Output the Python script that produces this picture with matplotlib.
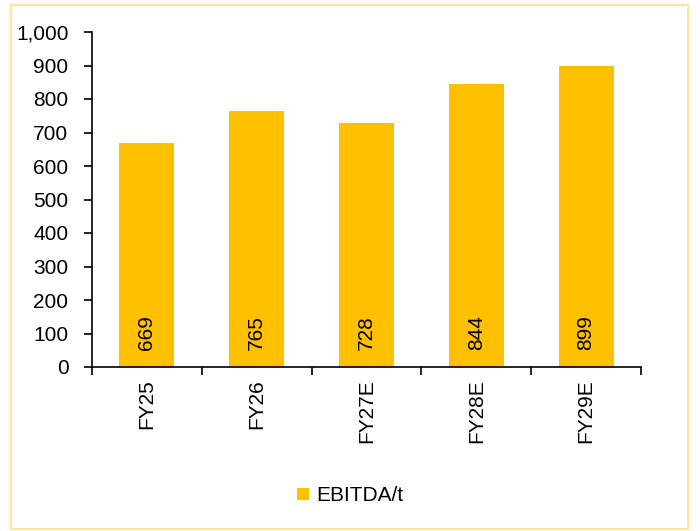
import matplotlib
import matplotlib.pyplot as plt
from matplotlib.patches import Rectangle
from matplotlib.ticker import FuncFormatter

matplotlib.use("Agg", force=True)

CATEGORIES = ["FY25", "FY26", "FY27E", "FY28E", "FY29E"]
EBITDA_PER_T = [669, 765, 728, 844, 899]
SERIES_NAME = "EBITDA/t"

plt.rcParams["font.family"] = ["Liberation Sans", "DejaVu Sans"]

fig = plt.figure(figsize=(7.0, 5.31), dpi=100)
ax = fig.add_axes([92 / 700, 1 - 367 / 531, 549 / 700, 335 / 531])

x = range(len(CATEGORIES))
bars = ax.bar(x, EBITDA_PER_T, width=0.5, color="#FFC000", label=SERIES_NAME)
for i, v in zip(x, EBITDA_PER_T):
    ax.text(i, 50, f"{v}", rotation=90, ha="center", va="bottom", fontsize=15)

ax.set_xlim(-0.5, len(CATEGORIES) - 0.5)
ax.set_ylim(0, 1000)
ax.set_yticks(range(0, 1001, 100))
ax.yaxis.set_major_formatter(FuncFormatter(lambda v, _: f"{int(v):,}"))
ax.set_xticks(x)
ax.set_xticklabels(CATEGORIES, rotation=90)
ax.set_xticks([i - 0.5 for i in range(len(CATEGORIES) + 1)], minor=True)
ax.tick_params(axis="x", which="major", length=0, pad=9, labelsize=15)
ax.tick_params(axis="x", which="minor", length=6, width=1.2, direction="out")
ax.tick_params(axis="y", length=6, width=1.2, direction="out", labelsize=15, pad=11)
for side in ["top", "right"]:
    ax.spines[side].set_visible(False)
for side in ["left", "bottom"]:
    ax.spines[side].set_linewidth(1.2)

fig.legend(handles=[bars], labels=[SERIES_NAME], loc="center", bbox_to_anchor=(0.5, 0.066),
           frameon=False, fontsize=15, handlelength=0.55, handleheight=0.55, handletextpad=0.35)

fig.patches.append(Rectangle((11 / 700, 2 / 531), 677 / 700, 524 / 531, transform=fig.transFigure,
                             fill=False, edgecolor="#FFE699", linewidth=1.5))

fig.savefig("out.png", dpi=100)
